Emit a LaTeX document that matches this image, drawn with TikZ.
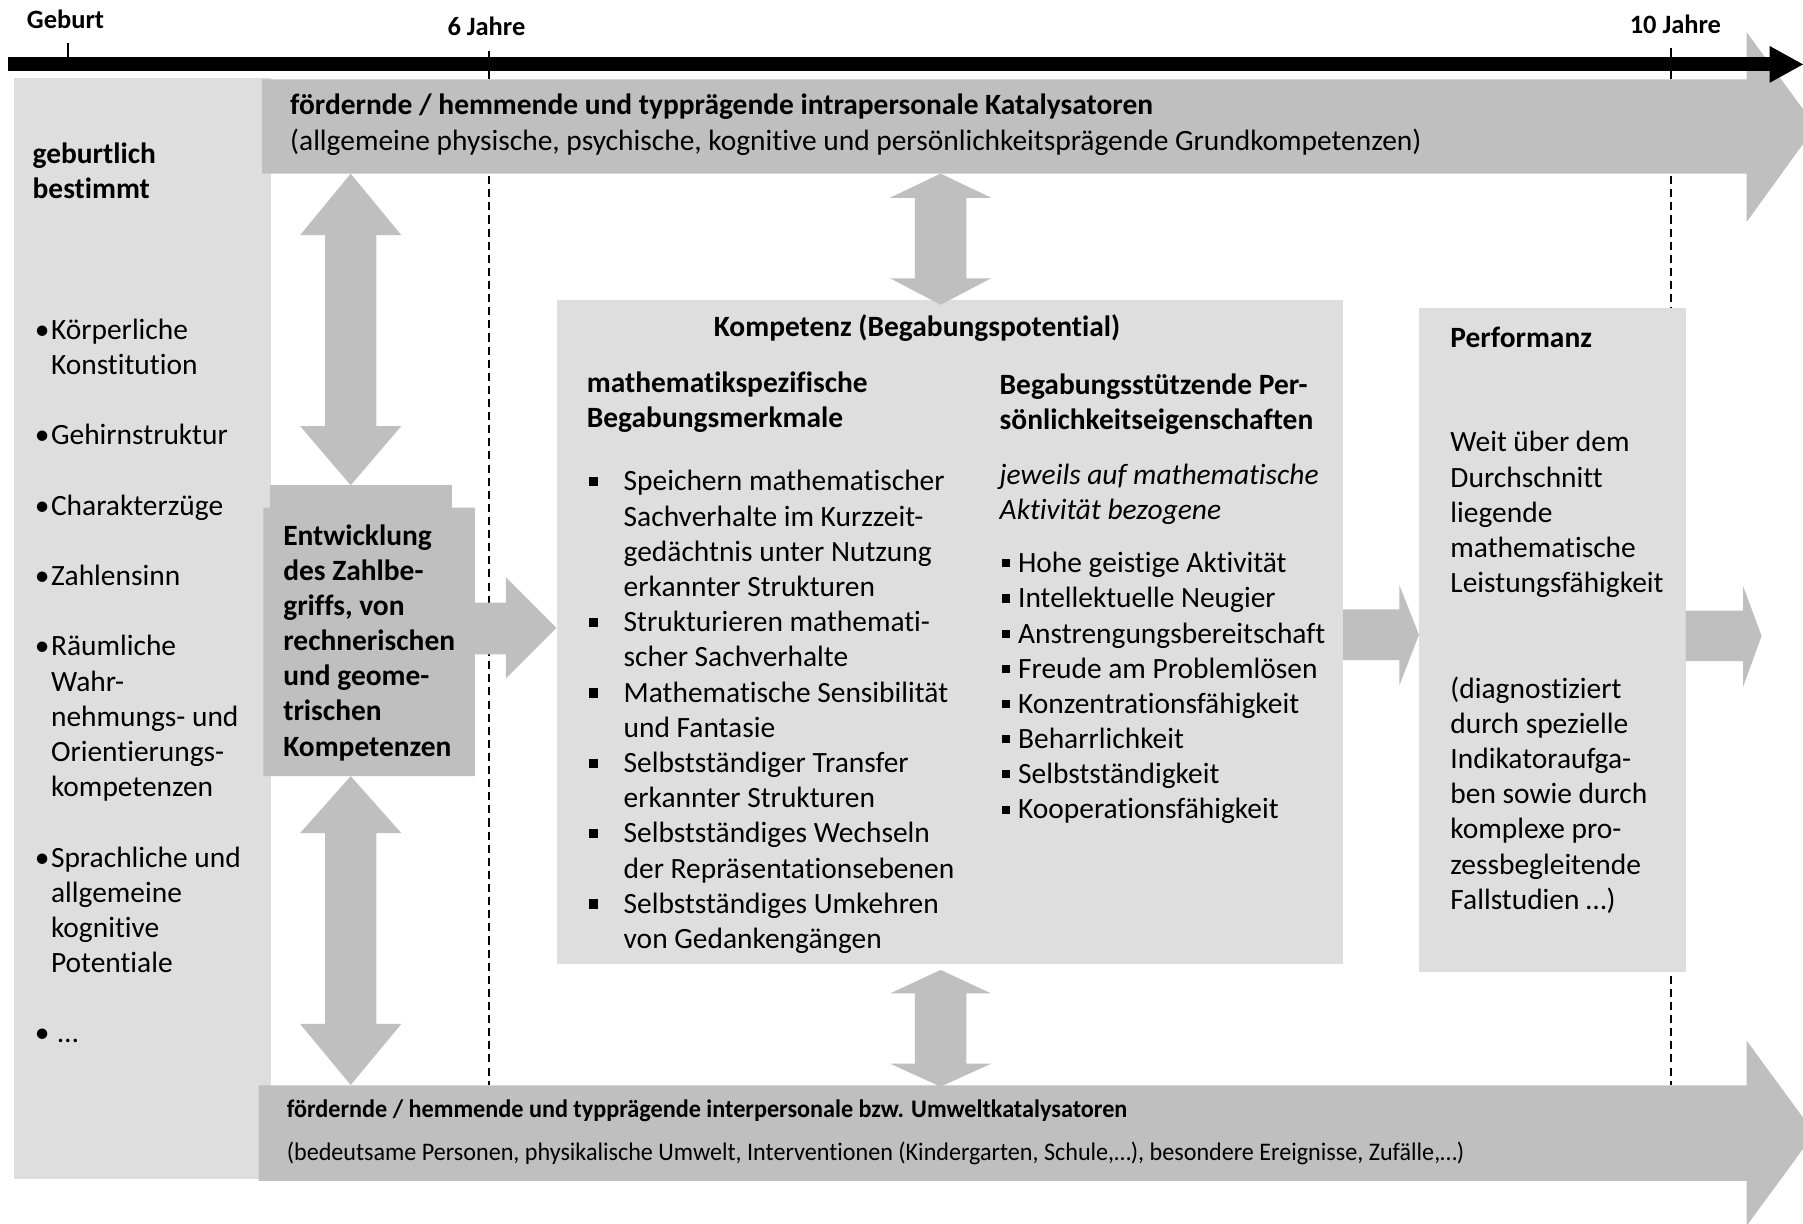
\documentclass[tikz,border=0pt]{standalone}
\usepackage{fontspec}
\usepackage{graphicx}
\setmainfont{Carlito}[Ligatures={NoCommon}]
\definecolor{lightbox}{RGB}{222,222,222}
\definecolor{darkbox}{RGB}{191,191,191}
\newcommand\lbul{\makebox[7pt][l]{•}}
\newcommand\lind{\hspace*{7pt}}
\newcommand\ksq{\makebox[15pt][l]{\rule[2pt]{4pt}{4pt}}}
\newcommand\kind{\hspace*{15pt}}
\newcommand\rsq{\makebox[7pt][l]{\rule[2.3pt]{3.5pt}{3.5pt}}}
\newcommand\vdblarrow[5]{%
  \fill[blockarrow] (#1,#2) -- ({#1+44},#3) -- ({#1+22.3},#3) -- ({#1+22.3},#4) -- ({#1+44},#4) -- (#1,#5)
    -- ({#1-44},#4) -- ({#1-22.3},#4) -- ({#1-22.3},#3) -- ({#1-44},#3) -- cycle;}
\begin{document}
\begin{tikzpicture}[x=0.5pt,y=-0.5pt,
  txt/.style={inner sep=0pt, anchor=base west, font=\fontsize{12.8pt}{15.3pt}\selectfont},
  txtb/.style={inner sep=0pt, anchor=base west, font=\fontsize{12.8pt}{15.3pt}\selectfont\bfseries},
  txti/.style={inner sep=0pt, anchor=base west, font=\fontsize{12.8pt}{15.3pt}\selectfont\itshape},
  botb/.style={inner sep=0pt, anchor=base west, font=\fontsize{11pt}{13pt}\selectfont\bfseries},
  botr/.style={inner sep=0pt, anchor=base west, font=\fontsize{11pt}{13pt}\selectfont},
  lbl/.style={inner sep=0pt, anchor=base, font=\fontsize{11.5pt}{13pt}\selectfont\bfseries},
  dashline/.style={dash pattern=on 3.5pt off 2.2pt, line width=0.7pt},
  tick/.style={line width=0.8pt},
  blockarrow/.style={fill=darkbox},
  lightfill/.style={fill=lightbox},
  ]
\clip (0,0) rectangle (1568,1064);
\fill[white] (0,0) rectangle (1568,1064);

% dashed age lines
\coordinate (d6top) at (425,62);
\coordinate (d6bot) at (425,944);
\coordinate (d10top) at (1453,62);
\coordinate (d10bot) at (1453,944);
\draw[dashline] (d6top) -- (d6bot);
\draw[dashline] (d10top) -- (d10bot);

% light boxes
\fill[lightfill] (12,68) rectangle (236,1025);
\fill[lightfill] (484,261) rectangle (1168,838);
\fill[lightfill] (1234,268) rectangle (1466,845);

% top arrow
\fill[blockarrow] (228,69) -- (1519,69) -- (1519,28) -- (1579,110) -- (1519,193) -- (1519,151) -- (228,151) -- cycle;
% bottom arrow
\fill[blockarrow] (225,944) -- (1519,944) -- (1519,905) -- (1578,985.5) -- (1519,1066) -- (1519,1027) -- (225,1027) -- cycle;

% Entwicklung box
\fill[blockarrow] (235,422) -- (393,422) -- (393,441.5) -- (413,441.5) -- (413,675) -- (229,675) -- (229,441.5) -- (235,441.5) -- cycle;
% arrow to Kompetenz
\fill[blockarrow] (412,524) -- (440,524) -- (440,502) -- (484,546) -- (440,590) -- (440,569) -- (412,569) -- cycle;
% arrow to Performanz
\fill[blockarrow] (1168,530) -- (1217,530) -- (1217,509) -- (1234,552) -- (1217,596) -- (1217,574) -- (1168,574) -- cycle;
% arrow out of Performanz
\fill[blockarrow] (1466,531) -- (1516,531) -- (1516,510) -- (1532,553) -- (1516,597) -- (1516,575) -- (1466,575) -- cycle;

% vertical double arrows
\vdblarrow{305}{151}{204.5}{370.5}{422}
\vdblarrow{305}{675}{724.5}{890.5}{943.5}
\vdblarrow{818}{151}{172}{242}{265}
\vdblarrow{818}{843.5}{864}{925}{945}

% timeline
\fill[black] (7,50) rectangle (1540,62);
\fill[black] (1539,40) -- (1568,56) -- (1539,72) -- cycle;
\draw[tick] (59,37) -- (59,50);
\draw[tick] (425,44) -- (425,50);
\draw[tick] (1453,42) -- (1453,50);
\node[lbl] (geburt) at (57,25) {Geburt};
\node[lbl] (sechs) at (423,31) {6 Jahre};
\node[lbl] (zehn) at (1457,29) {10 Jahre};

% top arrow text
\node[txtb] (topA) at (252,100) {fördernde / hemmende und typprägende intrapersonale Katalysatoren};
\node[txt] (topB) at (252,131) {(allgemeine physische, psychische, kognitive und persönlichkeitsprägende Grundkompetenzen)};

% left column
\node[txtb] (geb) at (28,142) {\parbox[t]{200pt}{geburtlich\\bestimmt}};
\node[txt] (gebl) at (30,295) {\parbox[t]{200pt}{\lbul Körperliche\\\lind Konstitution\\[15.3pt]\lbul Gehirnstruktur\\[15.3pt]\lbul Charakterzüge\\[15.3pt]\lbul Zahlensinn\\[15.3pt]\lbul Räumliche\\\lind Wahr-\\\lind nehmungs- und\\\lind Orientierungs-\\\lind kompetenzen\\[15.3pt]\lbul Sprachliche und\\\lind allgemeine\\\lind kognitive\\\lind Potentiale\\[15.3pt]\lbul\hspace{3pt}…}};

% Entwicklung
\node[txtb] (entw) at (246,474) {\parbox[t]{200pt}{Entwicklung\\des Zahlbe-\\griffs, von\\rechnerischen\\und geome-\\trischen\\Kompetenzen}};

% Kompetenz
\node[txtb, anchor=base] (komp) at (797.5,293) {Kompetenz (Begabungspotential)};
\node[txtb] (mathspez) at (510,341) {\parbox[t]{300pt}{mathematikspezifische\\Begabungsmerkmale}};
\node[txtb] (pers) at (869,343) {\parbox[t]{300pt}{Begabungsstützende Per-\\sönlichkeitseigenschaften}};
\node[txti] (jew) at (869,421) {\parbox[t]{300pt}{jeweils auf mathematische\\Aktivität bezogene}};
\node[txt] (llist) at (512,427) {\parbox[t]{300pt}{\ksq Speichern mathematischer\\\kind Sachverhalte im Kurzzeit-\\\kind gedächtnis unter Nutzung\\\kind erkannter Strukturen\\\ksq Strukturieren mathemati-\\\kind scher Sachverhalte\\\ksq Mathematische Sensibilität\\\kind und Fantasie\\\ksq Selbstständiger Transfer\\\kind erkannter Strukturen\\\ksq Selbstständiges Wechseln\\\kind der Repräsentationsebenen\\\ksq Selbstständiges Umkehren\\\kind von Gedankengängen}};
\node[txt] (rlist) at (871,498) {\parbox[t]{300pt}{\rsq Hohe geistige Aktivität\\\rsq Intellektuelle Neugier\\\rsq Anstrengungsbereitschaft\\\rsq Freude am Problemlösen\\\rsq Konzentrationsfähigkeit\\\rsq Beharrlichkeit\\\rsq Selbstständigkeit\\\rsq Kooperationsfähigkeit}};

% Performanz
\node[txtb] (perf) at (1261,302) {Performanz};
\node[txt] (perftext) at (1261,393) {\parbox[t]{200pt}{Weit über dem\\Durchschnitt\\liegende\\mathematische\\Leistungsfähigkeit\\[30.6pt](diagnostiziert\\durch spezielle\\Indikatoraufga-\\ben sowie durch\\komplexe pro-\\zessbegleitende\\Fallstudien …)}};

% bottom arrow text
\node[botb] (botA) at (249,972) {\resizebox{365.5pt}{\height}{fördernde / hemmende und typprägende interpersonale bzw. Umweltkatalysatoren}};
\node[botr] (botB) at (249,1009) {\resizebox{512pt}{\height}{(bedeutsame Personen, physikalische Umwelt, Interventionen (Kindergarten, Schule,…), besondere Ereignisse, Zufälle,…)}};
\end{tikzpicture}
\end{document}
